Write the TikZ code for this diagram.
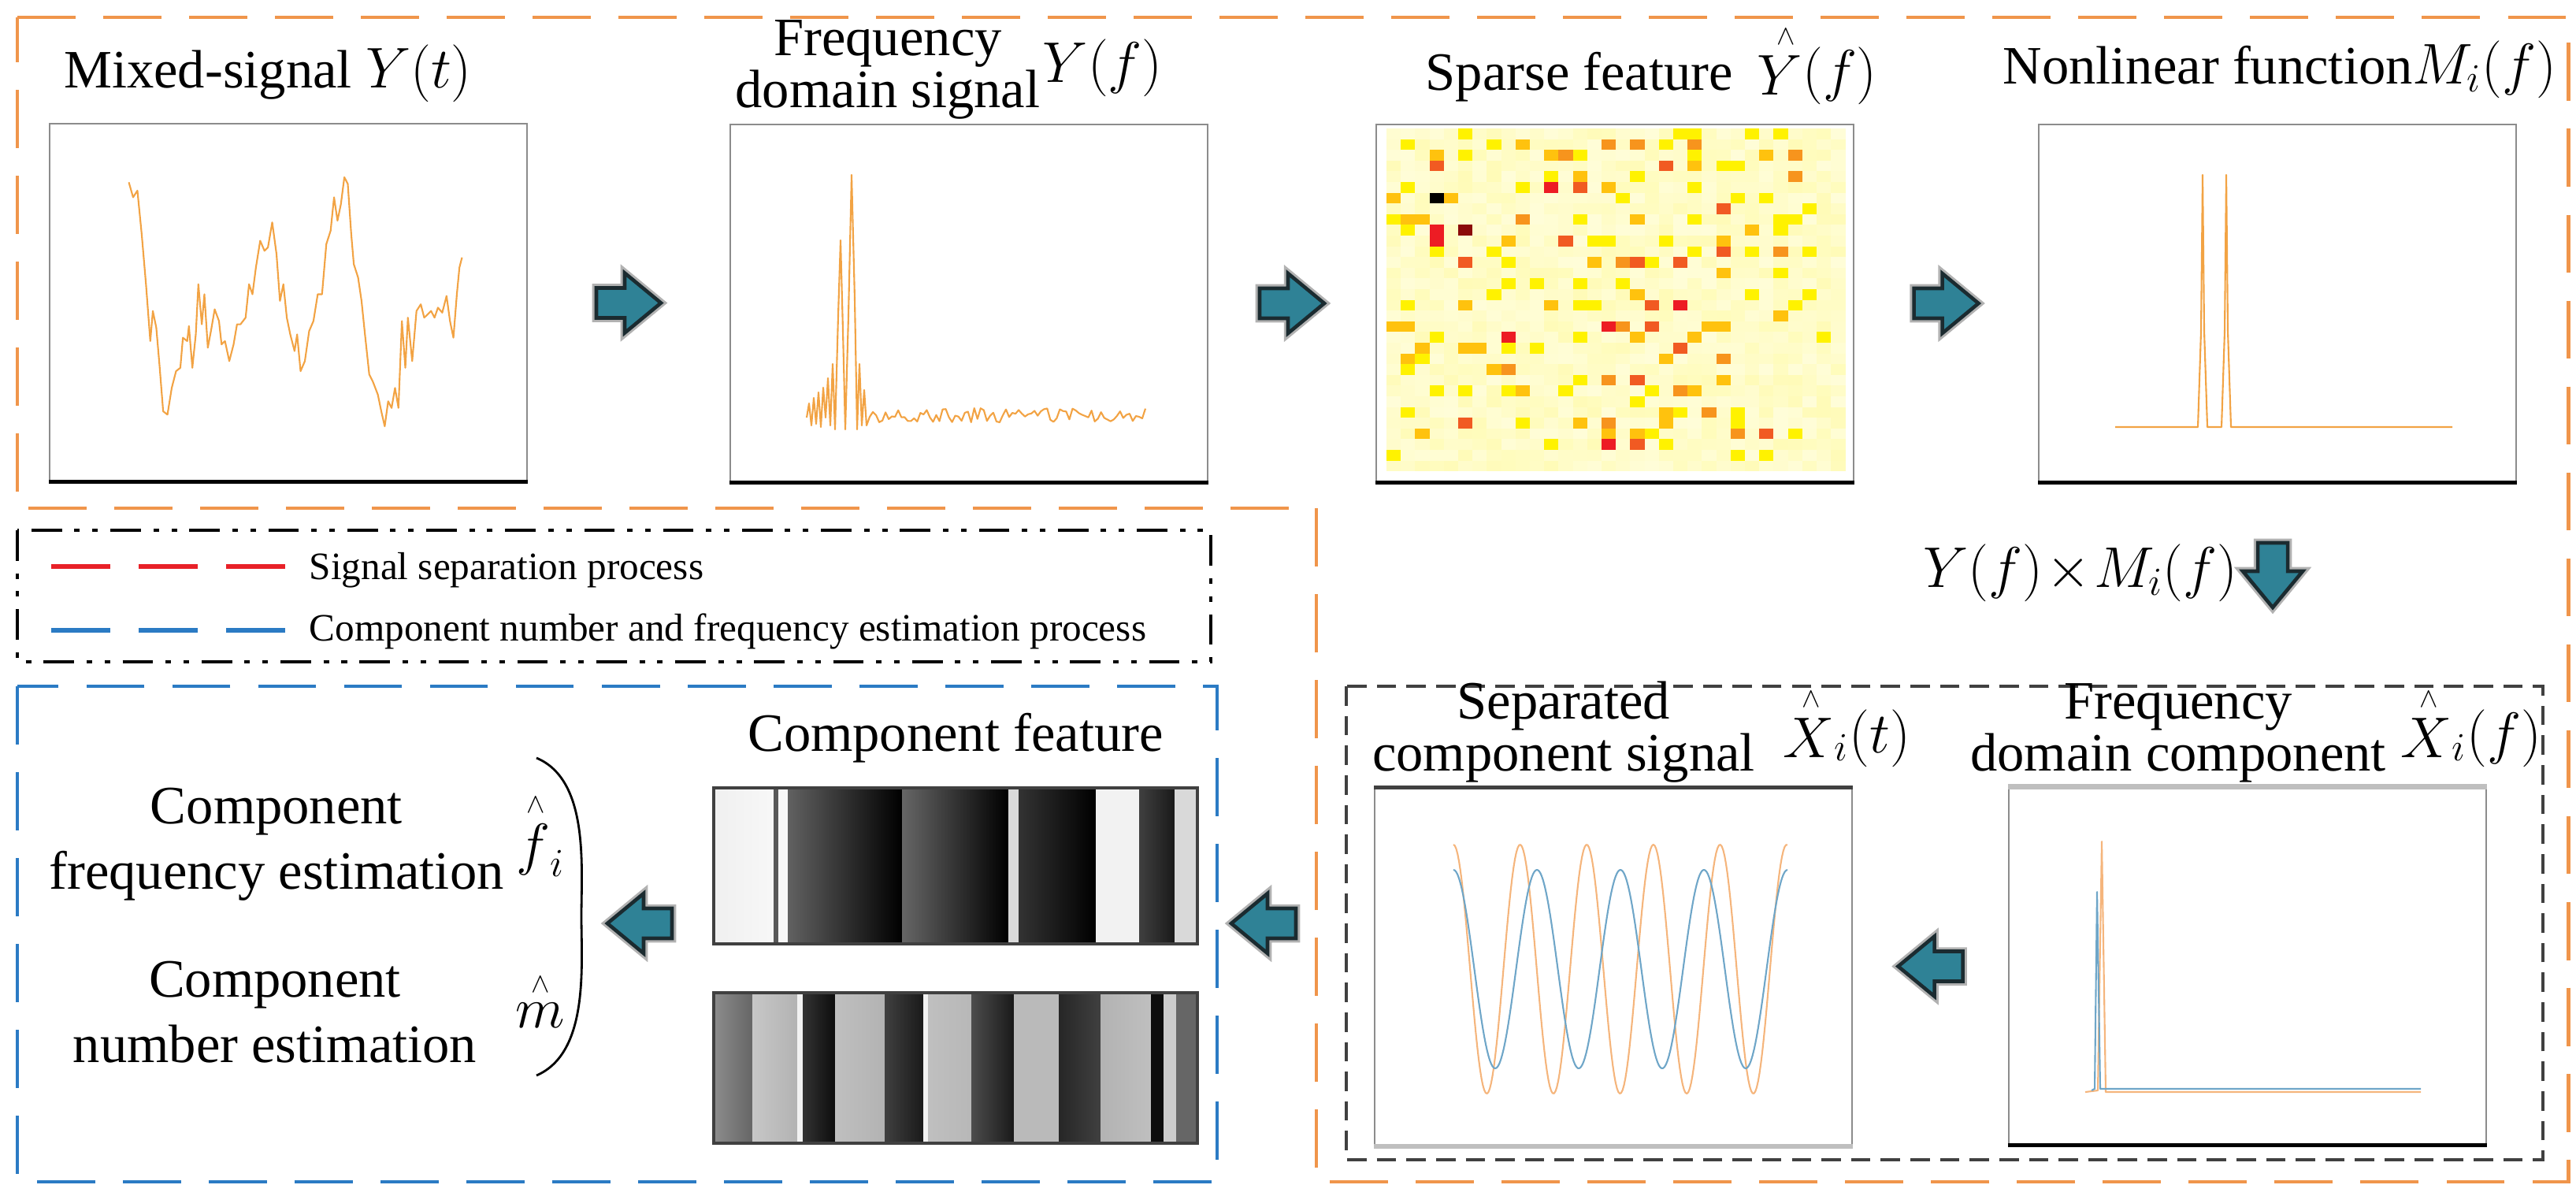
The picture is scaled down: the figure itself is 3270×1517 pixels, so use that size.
\documentclass[tikz,border=0pt]{standalone}
\usepackage{fontspec}
\setmainfont{Liberation Serif}
\usetikzlibrary{calc}

\definecolor{frameorange}{HTML}{F0954B}
\definecolor{frameblue}{HTML}{2B7BC4}
\definecolor{framegray}{HTML}{404040}
\definecolor{sigorange}{HTML}{F2A344}
\definecolor{sigorangelt}{HTML}{F5B57C}
\definecolor{sigblue}{HTML}{6FA6C8}
\definecolor{arrowteal}{HTML}{2F8296}
\definecolor{arrowdark}{HTML}{1B2B30}
\definecolor{legendred}{HTML}{E82128}
\definecolor{hmY}{HTML}{FFF200}
\definecolor{hmG}{HTML}{FFC20E}
\definecolor{hmO}{HTML}{F7941D}
\definecolor{hmR}{HTML}{F15A22}
\definecolor{hmK}{HTML}{ED1C24}
\definecolor{hmD}{HTML}{8B0A0A}

% raised hat, as in the figure
\newcommand{\uphat}[1]{{\mathop{{#1}}\limits^{\hbox{\raise2pt\hbox{$\scriptscriptstyle\wedge$}}}}}

\tikzset{
  panel/.style={draw=black!45, line width=0.6pt, minimum width=6.05cm, minimum height=4.53cm, inner sep=0pt},
  lbl/.style={inner sep=0pt, anchor=base},
  twoline/.style={inner sep=0pt, anchor=base, align=center, font=\fontsize{19.5}{16.5}\selectfont},
  estlbl/.style={inner sep=0pt, anchor=base, align=center, font=\fontsize{19.5}{23.5}\selectfont},
  legendlbl/.style={inner sep=0pt, anchor=base west, font=\fontsize{14}{16}\selectfont},
  outerdash/.style={line width=1.4pt, dash pattern=on 21pt off 10pt},
  sigline/.style={line width=0.6pt, line join=round},
  pics/blockarrow/.style={code={
    \draw[black!30, line width=3pt, line join=miter]
      (-41,-19) -- (-5,-19) -- (-5,-38) -- (41,0) -- (-5,38) -- (-5,19) -- (-41,19) -- cycle;
    \filldraw[fill=arrowteal, draw=arrowdark, line width=1.3pt, line join=miter]
      (-41,-19) -- (-5,-19) -- (-5,-38) -- (41,0) -- (-5,38) -- (-5,19) -- (-41,19) -- cycle;
  }}
}

\begin{document}
\begin{tikzpicture}[x=0.01cm, y=-0.01cm, font=\fontsize{19.5}{17}\selectfont]
  \useasboundingbox (0,0) rectangle (3270,1517);

  % Frames
  \draw[outerdash, frameorange] (22,22) -- (3260,22) -- (3260,1500) -- (1671,1500) -- (1671,645) -- (22,645) -- cycle;
  \draw[black, line width=1.1pt, dash pattern=on 11pt off 4.5pt on 2pt off 4.5pt on 2pt off 4.5pt] (22,673) rectangle (1537,840);
  \draw[outerdash, frameblue] (22,871) rectangle (1545,1500);
  \draw[framegray, line width=0.9pt, dash pattern=on 7pt off 3.7pt] (1709,871) rectangle (3228,1472);

  % Panels
  \node[panel] (p1) at (366,384) {};
  \node[panel] (p2) at (1230,385) {};
  \node[panel] (p3) at (2050,385) {};
  \node[panel] (p4) at (2891,385) {};
  \node[panel] (p5) at (2048,1227) {};
  \node[panel] (p6) at (2853,1226) {};
  \foreach \p in {p1,p2,p3,p4,p6}
    \draw[line width=1.3pt] (\p.south west) -- (\p.south east);
  \draw[line width=1.3pt, black!75] (p5.north west) -- (p5.north east);
  \draw[line width=1.8pt, black!25] (p5.south west) -- (p5.south east);
  \draw[line width=1.8pt, black!25] (p6.north west) -- (p6.north east);

  % Labels
  \node[lbl] (t1) at (340,111) {Mixed-signal $Y(t)$};
  \node[twoline] (t2) at (1127,136) {Frequency\\domain signal};
  \node[lbl, anchor=base west] (t2m) at (1323,104) {$Y(f)$};
  \node[lbl, anchor=base west] (t3) at (1809,114) {Sparse feature\hspace{0.45em}$\uphat{Y}(f)$};
  \node[lbl, anchor=base west] (t4) at (2542,106) {Nonlinear function$M_i(f)$};
  \node[lbl] (mul) at (2641,745) {$Y(f)\!\times\! M_i(f)$};
  \node[twoline] (t5) at (1985,978) {Separated\\component signal};
  \node[lbl, anchor=base west] (t5m) at (2263,955) {$\uphat{X}_i(t)$};
  \node[twoline] (t6) at (2765,978) {Frequency\\domain component};
  \node[lbl, anchor=base west] (t6m) at (3047,955) {$\uphat{X}_i(f)$};
  \node[lbl] (t7) at (1213,953) {Component feature};
  \node[estlbl] (e1) at (351,1128) {Component\\frequency estimation};
  \node[estlbl] (e2) at (349,1348) {Component\\number estimation};
  \node[lbl] (fhat) at (686,1096) {$\uphat{f}_i$};
  \node[lbl] (mhat) at (686,1307) {$\uphat{m}$};
  \draw[line width=0.8pt] (681,962) .. controls (748,990) and (738,1100) .. (738,1163)
    .. controls (738,1226) and (748,1336) .. (681,1365);

  % Legend
  \draw[legendred, line width=1.6pt, dash pattern=on 0.75cm off 0.36cm] (65,719) -- (365,719);
  \node[legendlbl] (leg1) at (392,735) {Signal separation process};
  \draw[frameblue, line width=1.6pt, dash pattern=on 0.75cm off 0.36cm] (65,800) -- (365,800);
  \node[legendlbl] (leg2) at (392,813) {Component number and frequency estimation process};

  % Arrows
  \pic at ($(p1.east)!0.5!(p2.west)$) {blockarrow};
  \pic at ($(p2.east)!0.5!(p3.west)$) {blockarrow};
  \pic at ($(p3.east)!0.5!(p4.west)$) {blockarrow};
  \pic[rotate=-90] at (2885,730) {blockarrow};
  \pic[rotate=180] at ($(p5.east)!0.5!(p6.west)$) {blockarrow};
  \pic[rotate=180] at (1604,1172) {blockarrow};
  \pic[rotate=180] at (812,1172) {blockarrow};

  % Mixed signal (traced)
  \begin{scope}[x=0.010893cm, y=-0.004237cm]
    \draw[sigline, sigorange] plot coordinates {(150,545) (155,590) (160,570) (165,700) (170,850) (175,1020)
      (178,930) (182,980) (186,1100) (190,1230) (195,1240) (200,1160) (205,1110) (210,1100) (213,1010)
      (218,1020) (220,975) (224,1100) (228,1000) (231,850) (235,970) (238,880) (242,1040) (246,985)
      (250,925) (255,960) (258,1030) (262,1020) (267,1080) (272,1030) (276,970) (280,970) (286,950)
      (290,850) (294,880) (298,800) (303,720) (308,750) (312,740) (317,665) (322,760) (326,900) (330,850)
      (334,950) (338,1000) (343,1050) (346,1000) (350,1110) (355,1080) (360,990) (365,960) (370,880)
      (375,880) (380,730) (385,690) (389,590) (393,660) (397,610) (401,530) (405,550) (409,700) (412,790)
      (417,830) (421,900) (425,1000) (430,1120) (434,1140) (440,1180) (444,1230) (448,1275) (452,1200)
      (456,1220) (460,1160) (464,1220) (468,960) (472,1100) (475,950) (480,1080) (485,930) (490,910)
      (494,950) (498,940) (502,930) (506,950) (510,920) (515,935) (520,885) (524,960) (528,1010)
      (532,880) (535,800) (538,770)};
  \end{scope}

  % Frequency domain signal
  \pgfmathsetseed{7}
  \draw[sigline, sigorange] (1024,530) -- (1027,512) -- (1030,540) -- (1033,505) -- (1036,538) -- (1039,498)
    -- (1042,542) -- (1045,492) -- (1048,530) -- (1051,480) -- (1054,540) -- (1057,462) -- (1060,545)
    -- (1064,400) -- (1067,305) -- (1070,420) -- (1073,545) -- (1077,400) -- (1081,222) -- (1085,380)
    -- (1088,545) -- (1091,462) -- (1094,540) -- (1097,495) -- (1100,540)
    -- plot[domain=1104:1454, samples=88] (\x, {527+9*rand});

  % Sparse feature
  \pgfmathsetseed{42}
  \foreach \cx in {0,...,31}
    \foreach \ry in {0,...,31} {
      \pgfmathsetmacro\t{15+rnd*13}
      \fill[hmY!\t!white] (1760+18.2*\cx,163+13.6*\ry) rectangle ++(18.3,13.7);
    }
  \foreach \col/\cells in {
    hmY/{5/0,20/0,21/0,25/0,27/0,1/1,7/1,19/1,5/2,13/2,21/2,23/3,24/3,11/4,17/4,1/5,9/5,21/5,16/6,24/6,26/6,
      29/7,0/8,13/8,21/8,27/8,28/8,1/9,27/9,14/10,15/10,19/10,3/11,7/11,21/11,25/11,29/11,8/12,18/12,27/13,
      8/14,10/14,13/14,16/14,7/15,25/15,29/15,1/16,13/16,14/16,28/16,3/19,13/19,30/19,8/20,10/20,2/21,1/22,
      13/23,3/24,5/24,8/24,12/24,18/24,17/25,1/26,20/26,24/26,9/27,24/27,18/28,28/28,11/29,19/29,0/30,24/30,26/30},
    hmG/{9/1,3/2,11/2,26/2,21/3,13/4,15/5,0/6,4/6,1/8,2/8,17/8,25/9,8/10,23/10,14/12,23/13,17/15,5/16,11/16,
      27/17,0/18,1/18,22/18,23/18,17/19,21/19,2/20,5/20,6/20,1/21,19/21,7/22,23/23,9/24,21/24,19/26,13/27,
      19/27,2/28,15/28,17/28},
    hmO/{15/1,17/1,21/1,12/2,28/2,28/4,9/8,27/11,16/12,16/18,23/21,8/22,15/23,20/24,22/26,15/27,24/28},
    hmR/{3/3,19/3,13/5,23/7,12/10,23/11,5/12,17/12,20/12,18/16,18/18,20/20,17/23,5/27,26/28,17/29},
    hmK/{11/5,3/9,3/10,20/16,15/18,8/19,15/29},
    hmD/{5/9},
    black/{3/6}}
    \foreach \cx/\ry in \cells
      \fill[\col] (1760+18.2*\cx,163+13.6*\ry) rectangle ++(18.2,13.6);

  % Nonlinear function
  \draw[sigline, sigorange] (2685,542) -- (2790,542) -- (2794,420) -- (2796,222) -- (2798,420) -- (2802,542)
    -- (2820,542) -- (2824,420) -- (2826,222) -- (2828,420) -- (2832,542) -- (3113,542);

  % Separated component signal
  \draw[sigline, sigorangelt] plot[domain=1845:2269, samples=240] (\x, {1230-158*cos(4.2553*(\x-1845))});
  \draw[sigline, sigblue] plot[domain=1845:2269, samples=240] (\x, {1230-126*cos(3.3962*(\x-1845))});

  % Frequency domain component
  \draw[sigline, sigorangelt] (2647,1386) -- (2663,1384) -- (2668,1068) -- (2673,1386) -- (3073,1386);
  \draw[sigline, sigblue] (2655,1384) -- (2659,1382) -- (2662,1132) -- (2666,1382) -- (3073,1382);

  % Component feature
  \foreach \xa/\xb/\ca/\cb in {906/982/black!6/black!3, 982/988/black!65/black!65, 988/1000/black!3/black!3,
      1000/1145/black!62/black, 1145/1280/black!60/black, 1280/1293/black!15/black!15,
      1293/1391/black!80/black, 1391/1446/black!5/black!5, 1446/1491/black!75/black!90, 1491/1520/black!15/black!15}
    \shade[left color=\ca, right color=\cb] (\xa,1000) rectangle (\xb,1198);
  \foreach \xa/\xb/\ca/\cb in {906/955/black!45/black!60, 955/1012/black!22/black!30, 1012/1019/black!5/black!5,
      1019/1060/black!80/black!95, 1060/1123/black!25/black!30, 1123/1172/black!75/black!90,
      1172/1178/black!5/black!5, 1178/1233/black!25/black!28, 1233/1287/black!70/black!90,
      1287/1344/black!27/black!27, 1344/1397/black!85/black!75, 1397/1461/black!30/black!25,
      1461/1477/black!95/black!95, 1477/1493/black!20/black!20, 1493/1520/black!60/black!60}
    \shade[left color=\ca, right color=\cb] (\xa,1260) rectangle (\xb,1451);
  \node[draw=black!75, line width=1pt, minimum width=6.14cm, minimum height=1.98cm, inner sep=0pt] (f1) at (1213,1099) {};
  \node[draw=black!75, line width=1pt, minimum width=6.14cm, minimum height=1.91cm, inner sep=0pt] (f2) at (1213,1355.5) {};
\end{tikzpicture}
\end{document}
